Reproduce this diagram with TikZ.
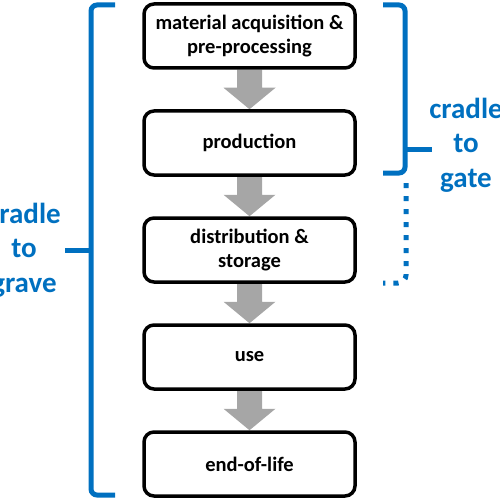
\documentclass[tikz,border=0pt]{standalone}
\usepackage{fontspec}
\setmainfont{Carlito}
\usepackage{tikz}
\usetikzlibrary{positioning, calc, backgrounds}
\definecolor{lcaBlue}{RGB}{0, 112, 192}
\definecolor{lcaGray}{RGB}{166, 166, 166}
\tikzset{
    base/.style={
        font=\bfseries\fontsize{20.5}{23.5}\selectfont,
        align=center
    },
    stage/.style={
        base,
        rectangle,
        rounded corners=10pt,
        draw=black,
        line width=3.5pt,
        fill=white,
        minimum width=211pt,
        minimum height=64pt,
        inner sep=0pt
    },
    flowarrow/.style={
        fill=lcaGray
    },
    brace/.style={
        draw=lcaBlue,
        line width=5pt,
        rounded corners=6pt
    },
    dotline/.style={
        draw=lcaBlue,
        line width=5pt,
        dash pattern=on 5pt off 8pt,
        rounded corners=8pt
    },
    scope label/.style={
        font=\bfseries\fontsize{29}{34.5}\selectfont,
        text=lcaBlue,
        align=center
    }
}
\begin{document}
\begin{tikzpicture}[x=1pt, y=-1pt]
  \useasboundingbox (0,0) rectangle (500,500);

  % life cycle stages
  \node[stage] (acq) at (249.5,36) {material acquisition \&\\pre-processing};
  \node[stage, below=39.5pt of acq] (prod) {production};
  \node[stage, below=39.5pt of prod] (dist) {distribution \&\\storage};
  \node[stage, below=39.5pt of dist] (use) {use};
  \node[stage, below=39.5pt of use] (eol) {end-of-life};

  % block arrows between stages
  \begin{scope}[on background layer]
    \foreach \a/\b in {acq/prod, prod/dist, dist/use, use/eol}
      \fill[flowarrow] ($(\a.south)+(-12.5,0)$) -- ($(\a.south)+(-12.5,18)$)
        -- ($(\a.south)+(-26,18)$) -- (\b.north) -- ($(\a.south)+(26,18)$)
        -- ($(\a.south)+(12.5,18)$) -- ($(\a.south)+(12.5,0)$) -- cycle;
  \end{scope}

  % cradle to grave
  \draw[brace] (115,5) -- (91,5) -- (91,495) -- (115,495);
  \draw[brace] (91,250) -- (65,250);
  \node[scope label] (grave) at (24,250) {cradle\\to\\grave};

  % cradle to gate
  \draw[brace] (383,5) -- (405,5) -- (405,173) -- (383,173);
  \draw[brace] (405,149) -- (432,149);
  \draw[dotline] (406,183) -- (406,283) -- (383,283);
  \node[scope label] (gate) at (466,145) {cradle\\to\\gate};
\end{tikzpicture}
\end{document}
